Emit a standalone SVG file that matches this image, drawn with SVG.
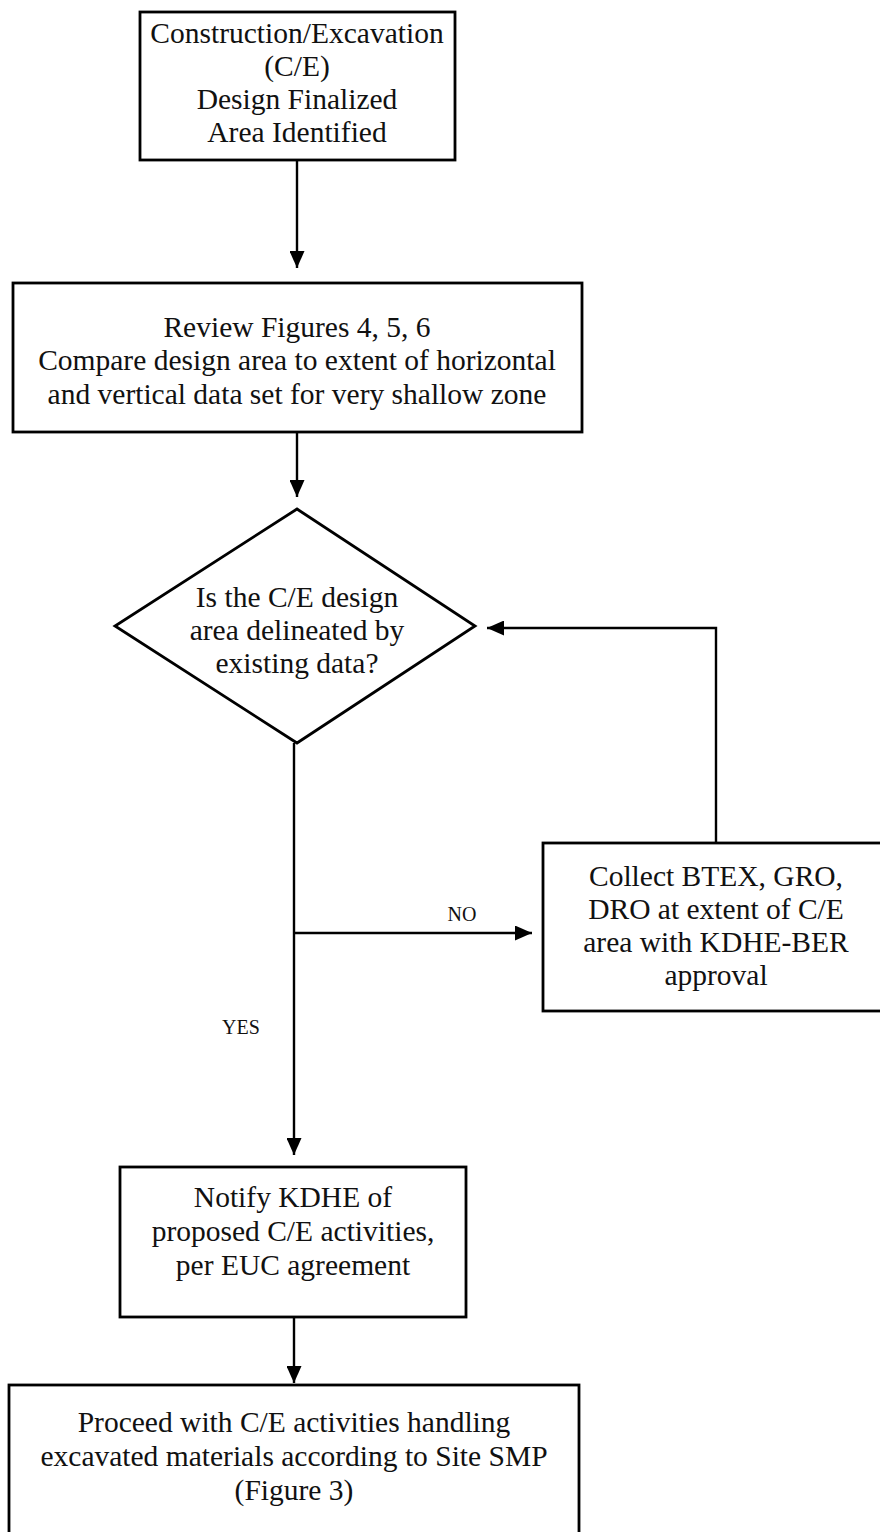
<svg xmlns="http://www.w3.org/2000/svg" width="880" height="1532" viewBox="0 0 880 1532">
<defs>
<style>
.box{fill:#fff;stroke:#000;stroke-width:2.8}
.t{font-family:"Liberation Serif","Times New Roman",serif;font-size:29.5px;fill:#111;text-anchor:middle}
.lbl{font-family:"Liberation Serif","Times New Roman",serif;font-size:20px;fill:#111;text-anchor:middle}
.ln{fill:none;stroke:#000;stroke-width:2.4}
</style>
<marker id="ah" viewBox="0 0 17 15" refX="17" refY="7.5" markerWidth="17" markerHeight="15" markerUnits="userSpaceOnUse" orient="auto">
<path d="M0,0 L17,7.5 L0,15 Z" fill="#000"/>
</marker>
</defs>
<rect width="880" height="1532" fill="#fff"/>
<g id="connectors">
<line class="ln" x1="297" y1="160" x2="297" y2="268" marker-end="url(#ah)"/>
<line class="ln" x1="297" y1="432" x2="297" y2="497" marker-end="url(#ah)"/>
<line class="ln" x1="294" y1="743" x2="294" y2="1155" marker-end="url(#ah)"/>
<line class="ln" x1="294" y1="933" x2="532" y2="933" marker-end="url(#ah)"/>
<polyline class="ln" points="716,843 716,628 487,628" marker-end="url(#ah)"/>
<line class="ln" x1="294" y1="1317" x2="294" y2="1383" marker-end="url(#ah)"/>
<text class="lbl" x="462" y="921">NO</text>
<text class="lbl" x="241" y="1034">YES</text>
</g>
<g id="n1">
<rect class="box" x="140" y="12" width="315" height="148"/>
<text class="t" x="297" y="43">Construction/Excavation</text>
<text class="t" x="297" y="76">(C/E)</text>
<text class="t" x="297" y="109">Design Finalized</text>
<text class="t" x="297" y="142">Area Identified</text>
</g>
<g id="n2">
<rect class="box" x="13" y="283" width="569" height="149"/>
<text class="t" x="297" y="337">Review Figures 4, 5, 6</text>
<text class="t" x="297" y="370">Compare design area to extent of horizontal</text>
<text class="t" x="297" y="404">and vertical data set for very shallow zone</text>
</g>
<g id="n3">
<polygon class="box" points="297,509 475,626 297,743 115,626"/>
<text class="t" x="297" y="607">Is the C/E design</text>
<text class="t" x="297" y="640">area delineated by</text>
<text class="t" x="297" y="673">existing data?</text>
</g>
<g id="n4">
<rect class="box" x="543" y="843" width="350" height="168"/>
<text class="t" x="716" y="886">Collect BTEX, GRO,</text>
<text class="t" x="716" y="919">DRO at extent of C/E</text>
<text class="t" x="716" y="952">area with KDHE-BER</text>
<text class="t" x="716" y="985">approval</text>
</g>
<g id="n5">
<rect class="box" x="120" y="1167" width="346" height="150"/>
<text class="t" x="293" y="1207">Notify KDHE of</text>
<text class="t" x="293" y="1241">proposed C/E activities,</text>
<text class="t" x="293" y="1275">per EUC agreement</text>
</g>
<g id="n6">
<rect class="box" x="9" y="1385" width="570" height="165"/>
<text class="t" x="294" y="1432">Proceed with C/E activities handling</text>
<text class="t" x="294" y="1466">excavated materials according to Site SMP</text>
<text class="t" x="294" y="1500">(Figure 3)</text>
</g>
</svg>
